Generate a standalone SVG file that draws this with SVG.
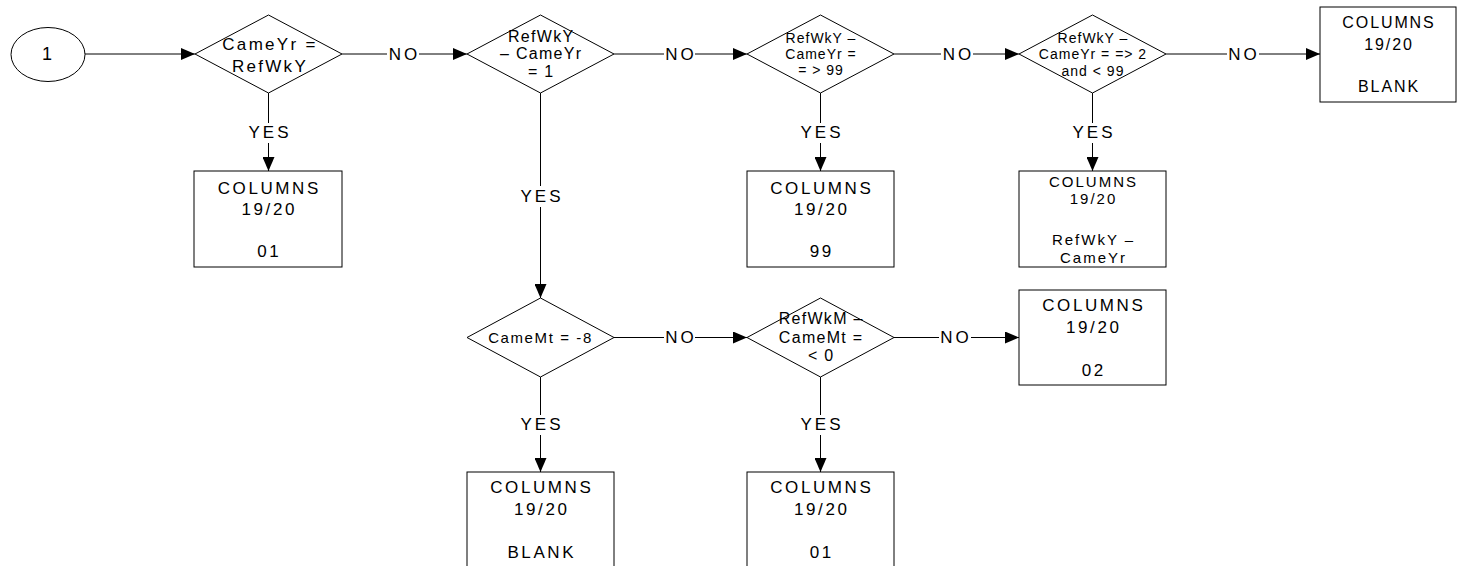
<svg xmlns="http://www.w3.org/2000/svg" width="1457" height="566" viewBox="0 0 1457 566">
<style>
.shape{fill:#fff;stroke:#000;stroke-width:1}
.ln{fill:none;stroke:#000;stroke-width:1}
text{font-family:"Liberation Sans",Arial,sans-serif;fill:#000;text-anchor:middle}
.t17{font-size:17px;letter-spacing:2.6px}
.t17d{font-size:17px;letter-spacing:2.3px}
.t16{font-size:16px;letter-spacing:1.3px}
.t16b{font-size:16px;letter-spacing:1.9px}
.t15{font-size:15px;letter-spacing:2px}
.t15d{font-size:15px;letter-spacing:1.6px}
.t14{font-size:14px;letter-spacing:1px}
.lbl{font-size:17px;letter-spacing:3px}
</style>
<defs>
<marker id="ah" viewBox="0 0 14 12" refX="14" refY="6" markerWidth="14" markerHeight="12" markerUnits="userSpaceOnUse" orient="auto">
<path d="M0,0 L14,6 L0,12 Z" fill="#000"/>
</marker>
</defs>
<g id="connectors">
<line class="ln" x1="85" y1="54" x2="195" y2="54" marker-end="url(#ah)"/>
<line class="ln" x1="268.5" y1="93" x2="268.5" y2="123"/>
<line class="ln" x1="268.5" y1="143" x2="268.5" y2="171" marker-end="url(#ah)"/>
<text class="lbl" x="270" y="138">YES</text>
<line class="ln" x1="342" y1="54" x2="387" y2="54"/>
<line class="ln" x1="419" y1="54" x2="467" y2="54" marker-end="url(#ah)"/>
<text class="lbl" x="404.5" y="60">NO</text>
<line class="ln" x1="614" y1="54" x2="664" y2="54"/>
<line class="ln" x1="695" y1="54" x2="747" y2="54" marker-end="url(#ah)"/>
<text class="lbl" x="681" y="60">NO</text>
<line class="ln" x1="894" y1="54" x2="941" y2="54"/>
<line class="ln" x1="973" y1="54" x2="1019" y2="54" marker-end="url(#ah)"/>
<text class="lbl" x="958.5" y="60">NO</text>
<line class="ln" x1="1166" y1="54" x2="1227" y2="54"/>
<line class="ln" x1="1259" y1="54" x2="1320" y2="54" marker-end="url(#ah)"/>
<text class="lbl" x="1244" y="60">NO</text>
<line class="ln" x1="820.5" y1="93" x2="820.5" y2="123"/>
<line class="ln" x1="820.5" y1="143" x2="820.5" y2="171" marker-end="url(#ah)"/>
<text class="lbl" x="822" y="138">YES</text>
<line class="ln" x1="1092.5" y1="93" x2="1092.5" y2="123"/>
<line class="ln" x1="1092.5" y1="143" x2="1092.5" y2="171" marker-end="url(#ah)"/>
<text class="lbl" x="1094" y="138">YES</text>
<line class="ln" x1="540.5" y1="93" x2="540.5" y2="186"/>
<line class="ln" x1="540.5" y1="207" x2="540.5" y2="298" marker-end="url(#ah)"/>
<text class="lbl" x="542" y="202">YES</text>
<line class="ln" x1="614" y1="337.5" x2="664" y2="337.5"/>
<line class="ln" x1="695" y1="337.5" x2="747" y2="337.5" marker-end="url(#ah)"/>
<text class="lbl" x="681" y="343">NO</text>
<line class="ln" x1="894" y1="337.5" x2="939" y2="337.5"/>
<line class="ln" x1="971" y1="337.5" x2="1019" y2="337.5" marker-end="url(#ah)"/>
<text class="lbl" x="956" y="343">NO</text>
<line class="ln" x1="540.5" y1="377" x2="540.5" y2="415"/>
<line class="ln" x1="540.5" y1="435" x2="540.5" y2="472" marker-end="url(#ah)"/>
<text class="lbl" x="542" y="430">YES</text>
<line class="ln" x1="820.5" y1="377" x2="820.5" y2="415"/>
<line class="ln" x1="820.5" y1="435" x2="820.5" y2="472" marker-end="url(#ah)"/>
<text class="lbl" x="822" y="430">YES</text>
</g>
<g id="start">
<ellipse class="shape" cx="48" cy="54.5" rx="37" ry="27"/>
<text x="47" y="60" style="font-size:18px">1</text>
</g>
<g id="d1">
<polygon class="shape" points="195,54 268.5,15 342,54 268.5,93"/>
<text class="t17d" x="270" y="50">CameYr =</text>
<text class="t17d" x="270" y="72">RefWkY</text>
</g>
<g id="d2">
<polygon class="shape" points="467,54 540.5,15 614,54 540.5,93"/>
<text class="t16" x="541.2" y="41.5">RefWkY</text>
<text class="t16" x="541.2" y="59">– CameYr</text>
<text class="t16" x="541.2" y="77">= 1</text>
</g>
<g id="d3">
<polygon class="shape" points="747,54 820.5,15 894,54 820.5,93"/>
<text class="t14" x="821" y="43">RefWkY –</text>
<text class="t14" x="821" y="59">CameYr =</text>
<text class="t14" x="821" y="75">= &gt; 99</text>
</g>
<g id="d4">
<polygon class="shape" points="1019,54 1092.5,15 1166,54 1092.5,93"/>
<text class="t14" x="1093" y="43">RefWkY –</text>
<text class="t14" x="1093" y="59">CameYr = =&gt; 2</text>
<text class="t14" x="1093" y="76">and &lt; 99</text>
</g>
<g id="b1">
<rect class="shape" x="194" y="171" width="148" height="96"/>
<text class="t17" x="269.3" y="193.5">COLUMNS</text>
<text class="t17" x="269.3" y="214.5">19/20</text>
<text class="t17" x="269.3" y="257">01</text>
</g>
<g id="b3">
<rect class="shape" x="747" y="171" width="147" height="96"/>
<text class="t17" x="821.8" y="193.5">COLUMNS</text>
<text class="t17" x="821.8" y="214.5">19/20</text>
<text class="t17" x="821.8" y="257">99</text>
</g>
<g id="b4">
<rect class="shape" x="1019" y="171" width="147" height="96"/>
<text class="t15" x="1093.5" y="187">COLUMNS</text>
<text class="t15" x="1093.5" y="204">19/20</text>
<text class="t15" x="1093.5" y="245">RefWkY –</text>
<text class="t15" x="1093.5" y="263">CameYr</text>
</g>
<g id="b5">
<rect class="shape" x="1320" y="7" width="136" height="95"/>
<text class="t16b" x="1389" y="28">COLUMNS</text>
<text class="t16b" x="1389" y="50">19/20</text>
<text class="t16b" x="1389" y="92">BLANK</text>
</g>
<g id="d5">
<polygon class="shape" points="467,337.5 540.5,298 614,337.5 540.5,377"/>
<text class="t15d" x="540.5" y="343">CameMt = -8</text>
</g>
<g id="d6">
<polygon class="shape" points="747,337.5 820.5,298 894,337.5 820.5,377"/>
<text class="t16" x="821.2" y="324">RefWkM –</text>
<text class="t16" x="821.2" y="343">CameMt =</text>
<text class="t16" x="821.2" y="361">&lt; 0</text>
</g>
<g id="b02">
<rect class="shape" x="1019" y="290" width="147" height="95"/>
<text class="t17" x="1093.8" y="311">COLUMNS</text>
<text class="t17" x="1093.8" y="333">19/20</text>
<text class="t17" x="1093.8" y="376">02</text>
</g>
<g id="b6">
<rect class="shape" x="467" y="472" width="147" height="110"/>
<text class="t17" x="541.8" y="493">COLUMNS</text>
<text class="t17" x="541.8" y="515">19/20</text>
<text class="t17" x="541.8" y="558">BLANK</text>
</g>
<g id="b7">
<rect class="shape" x="747" y="472" width="147" height="110"/>
<text class="t17" x="821.8" y="493">COLUMNS</text>
<text class="t17" x="821.8" y="515">19/20</text>
<text class="t17" x="821.8" y="558">01</text>
</g>
</svg>
